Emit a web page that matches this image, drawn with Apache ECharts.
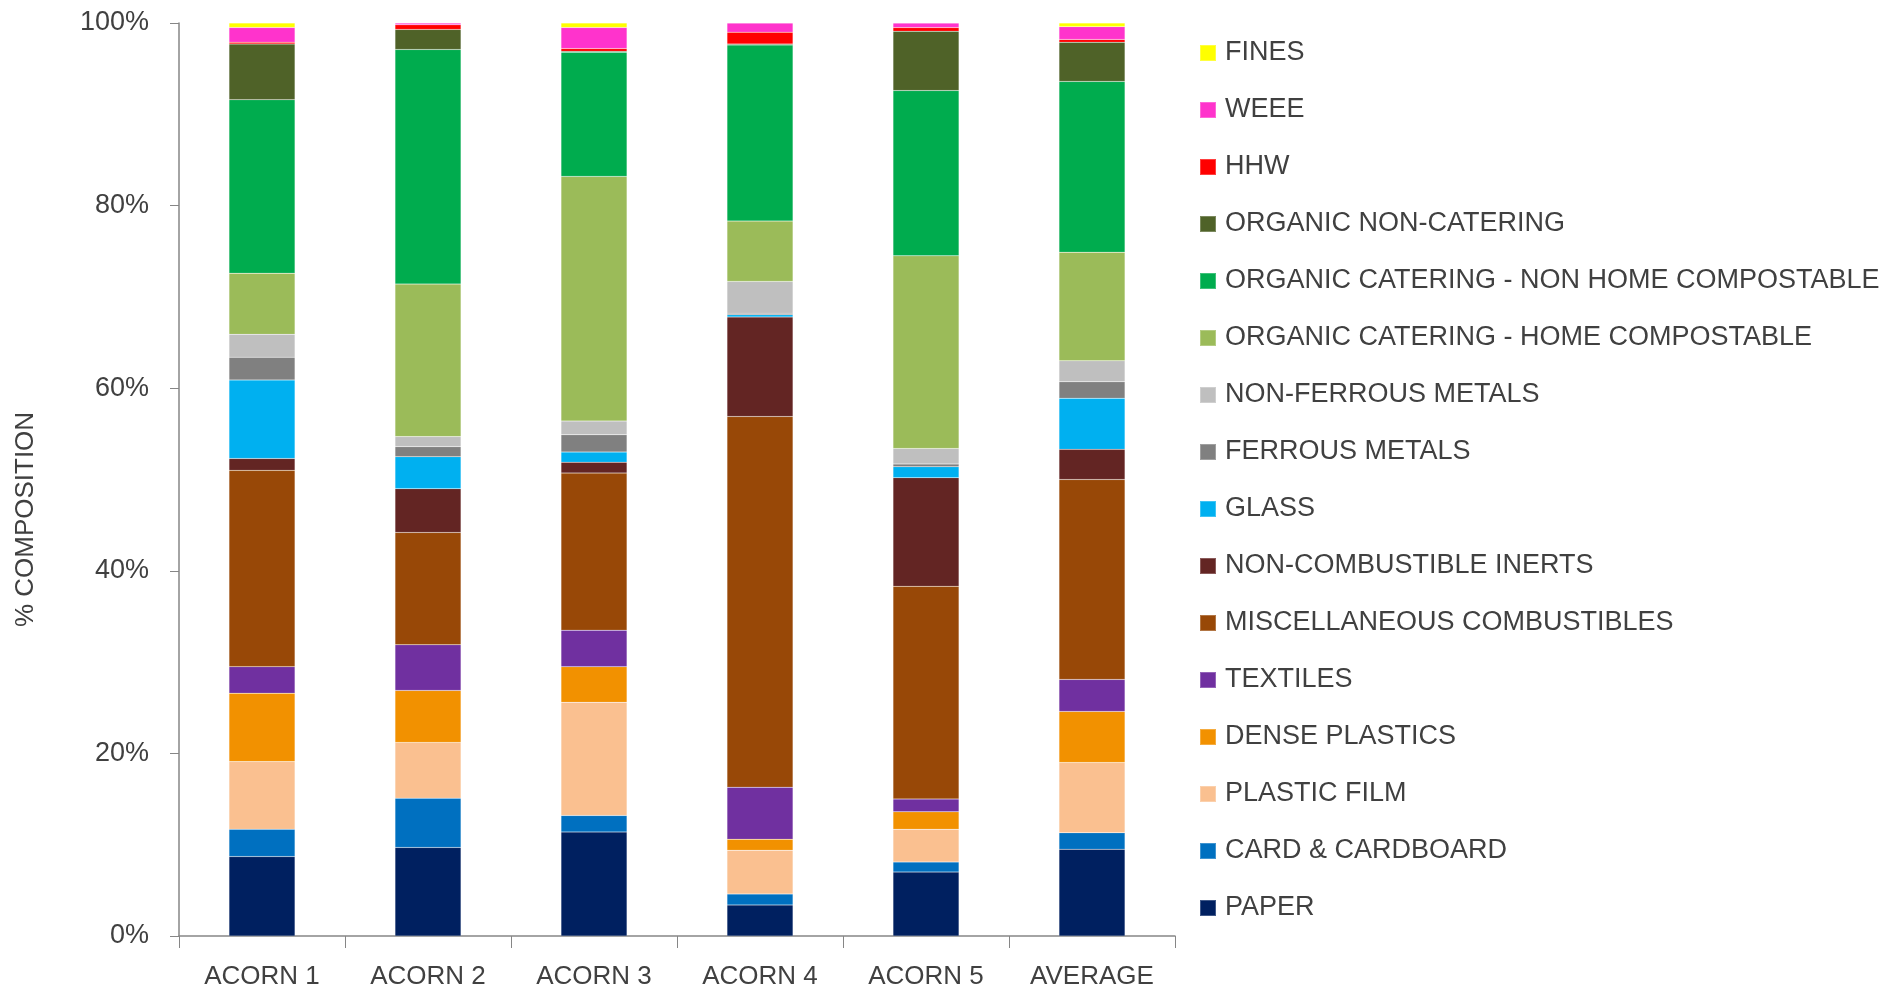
<!DOCTYPE html>
<html>
<head>
<meta charset="utf-8">
<script src="https://cdn.jsdelivr.net/npm/echarts@6/dist/echarts.min.js"></script>
<style>
  html, body { margin: 0; padding: 0; background: #fff; }
  #chart { width: 1894px; height: 995px; }
</style>
</head>
<body>
<div id="chart"></div>
<script>
// categories along the x axis
var categories = ['ACORN 1', 'ACORN 2', 'ACORN 3', 'ACORN 4', 'ACORN 5', 'AVERAGE'];

// stacked from the bottom up, % composition
var paper        = [8.7, 9.7, 11.4, 3.4, 7.0, 9.5];
var card         = [3.0, 5.4, 1.8, 1.2, 1.1, 1.8];
var plasticFilm  = [7.4, 6.1, 12.4, 4.8, 3.6, 7.7];
var densePlastic = [7.5, 5.7, 3.9, 1.2, 1.9, 5.6];
var textiles     = [2.9, 5.0, 4.0, 5.7, 1.4, 3.5];
var miscComb     = [21.5, 12.3, 17.2, 40.6, 23.3, 21.9];
var nonCombInert = [1.3, 4.8, 1.2, 10.9, 11.9, 3.3];
var glass        = [8.6, 3.5, 1.1, 0.25, 1.2, 5.6];
var ferrous      = [2.5, 1.1, 1.9, 0.15, 0.3, 1.8];
var nonFerrous   = [2.5, 1.1, 1.5, 3.5, 1.7, 2.3];
var orgHome      = [6.7, 16.7, 26.8, 6.6, 21.1, 11.9];
var orgNonHome   = [19.0, 25.7, 13.6, 19.3, 18.1, 18.7];
var orgNonCat    = [6.1, 2.2, 0.1, 0.1, 6.5, 4.3];
var hhw          = [0.2, 0.5, 0.3, 1.3, 0.4, 0.3];
var weee         = [1.6, 0.2, 2.3, 1.0, 0.5, 1.4];
var fines        = [0.5, 0.0, 0.5, 0.0, 0.0, 0.4];

var seriesNames = ['PAPER', 'CARD & CARDBOARD', 'PLASTIC FILM', 'DENSE PLASTICS', 'TEXTILES',
    'MISCELLANEOUS COMBUSTIBLES', 'NON-COMBUSTIBLE INERTS', 'GLASS', 'FERROUS METALS',
    'NON-FERROUS METALS', 'ORGANIC CATERING - HOME COMPOSTABLE',
    'ORGANIC CATERING - NON HOME COMPOSTABLE', 'ORGANIC NON-CATERING', 'HHW', 'WEEE', 'FINES'];
var seriesData = [paper, card, plasticFilm, densePlastic, textiles, miscComb, nonCombInert, glass,
    ferrous, nonFerrous, orgHome, orgNonHome, orgNonCat, hhw, weee, fines];
var colors = ['#002060', '#0070C0', '#FAC090', '#F29100', '#7030A0', '#984807', '#632523', '#00B0F0',
    '#808080', '#BFBFBF', '#9BBB59', '#00AC4E', '#4F6228', '#FF0000', '#FF33CC', '#FFFF00'];

var fontFam = 'Liberation Sans, Arial, sans-serif';
var textCol = '#404040';

var series = [];
for (var i = 0; i < seriesNames.length; i++) {
    series.push({
        name: seriesNames[i],
        type: 'bar',
        stack: 'total',
        barWidth: 66,
        itemStyle: { color: colors[i], borderColor: 'rgba(255,255,255,0.25)', borderWidth: 0.5 },
        data: seriesData[i]
    });
}

var chart = echarts.init(document.getElementById('chart'));
chart.setOption({
    animation: false,
    color: colors,
    grid: { left: 179, right: 719, top: 23, bottom: 59 },
    legend: {
        orient: 'vertical',
        left: 1194,
        top: 33,
        itemWidth: 16,
        itemHeight: 16,
        itemGap: 27,
        icon: 'rect',
        data: seriesNames.slice().reverse(),
        textStyle: { fontFamily: fontFam, fontSize: 27, color: textCol, lineHeight: 30, padding: [0, 0, 0, 4] }
    },
    xAxis: {
        type: 'category',
        data: categories,
        axisLine: { lineStyle: { color: '#868686', width: 1.5 } },
        axisTick: { show: true, length: 12, lineStyle: { color: '#868686' } },
        axisLabel: { fontFamily: fontFam, fontSize: 26, color: textCol, margin: 28 }
    },
    yAxis: {
        type: 'value',
        min: 0,
        max: 100,
        interval: 20,
        name: '% COMPOSITION',
        nameLocation: 'middle',
        nameGap: 140,
        nameTextStyle: { fontFamily: fontFam, fontSize: 26, color: textCol, padding: [0, 80, 0, 0] },
        axisLine: { show: true, lineStyle: { color: '#868686', width: 1.5 } },
        axisTick: { show: true, length: 9, lineStyle: { color: '#868686' } },
        splitLine: { show: false },
        axisLabel: { formatter: '{value}%', fontFamily: fontFam, fontSize: 27, color: textCol, margin: 30 }
    },
    series: series
});
</script>
</body>
</html>
